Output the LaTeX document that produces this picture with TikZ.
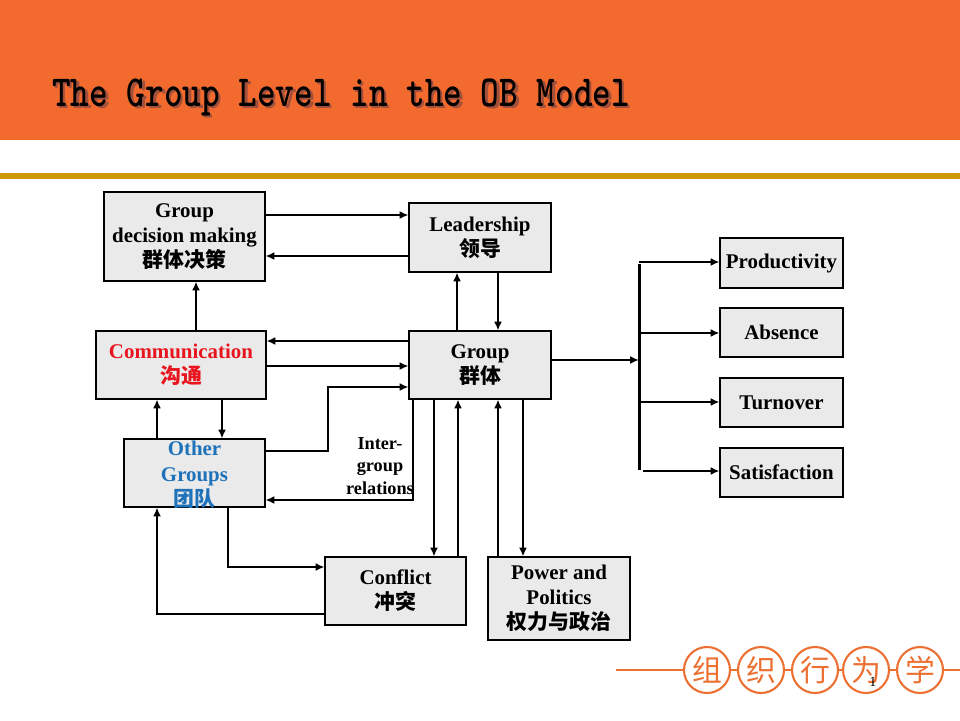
\documentclass[tikz,border=0pt]{standalone}
\usepackage{fontspec}
\usepackage{graphicx}
\setmainfont{Liberation Serif}
\newfontfamily\cjk{Noto Sans CJK SC}
\usetikzlibrary{arrows.meta}
\definecolor{barorange}{RGB}{242,106,46}
\definecolor{gold}{RGB}{204,153,0}
\definecolor{boxgray}{RGB}{234,234,234}
\definecolor{commred}{RGB}{232,20,30}
\definecolor{grpblue}{RGB}{30,114,186}
\definecolor{decor}{RGB}{236,112,50}
\definecolor{shadowc}{RGB}{160,80,60}
\newcommand{\titletext}{\scalebox{1}[1.25]{\ttfamily\bfseries\fontsize{20.2}{22}\selectfont The Group Level in the OB Model}}
\tikzset{
  box/.style={draw, line width=0.6pt, fill=boxgray, align=center, inner sep=0pt,
    font=\bfseries\fontsize{11.9}{14.2}\selectfont},
  arr/.style={-{Latex[length=5pt,width=4.5pt]}, line width=1.2pt},
  ring/.style={circle, draw=decor, line width=1.2pt, fill=white, minimum size=0.92cm, inner sep=0pt,
    text=decor, font=\cjk\fontsize{17}{17}\selectfont}
}
\begin{document}
\begin{tikzpicture}[x=0.02cm,y=-0.02cm]
\useasboundingbox (0,0) rectangle (960,720);
\fill[white] (0,0) rectangle (960,720);
% header
\fill[barorange] (0,0) rectangle (960,140);
\fill[gold] (0,173) rectangle (960,179);
\node[anchor=west, inner sep=0pt, text=shadowc] (titleshadow) at (54.5,99.5) {\titletext};
\node[anchor=west, inner sep=0pt, text=black] (title) at (52,97) {\titletext};

% boxes
\node[box, minimum width=3.22cm, minimum height=1.78cm] (gdm) at (184.5,236.5)
  {Group\\decision making\\{\cjk 群体决策}};
\node[box, minimum width=2.84cm, minimum height=1.38cm] (lead) at (480,237.5)
  {Leadership\\{\cjk 领导}};
\node[box, minimum width=3.4cm, minimum height=1.36cm, text=commred] (comm) at (181,365)
  {Communication\\{\cjk 沟通}};
\node[box, minimum width=2.84cm, minimum height=1.36cm] (group) at (480,365)
  {Group\\{\cjk 群体}};
\node[box, minimum width=2.82cm, minimum height=1.36cm, text=grpblue,
  font=\bfseries\fontsize{11.9}{14.4}\selectfont] (other) at (194.5,473) {};
\node[align=center, inner sep=0pt, text=grpblue,
  font=\bfseries\fontsize{11.9}{14.4}\selectfont] (otherlbl) at (194.5,475)
  {Other\\Groups\\{\cjk 团队}};
\node[box, minimum width=2.82cm, minimum height=1.36cm] (conflict) at (395.5,591)
  {Conflict\\{\cjk 冲突}};
\node[box, minimum width=2.84cm, minimum height=1.66cm] (power) at (559,598.5)
  {Power and\\Politics\\{\cjk 权力与政治}};
\node[box, minimum width=2.46cm, minimum height=1.0cm] (prod) at (781.5,263) {Productivity};
\node[box, minimum width=2.46cm, minimum height=0.98cm] (abs) at (781.5,332.5) {Absence};
\node[box, minimum width=2.46cm, minimum height=0.98cm] (turn) at (781.5,402.5) {Turnover};
\node[box, minimum width=2.46cm, minimum height=0.98cm] (sat) at (781.5,472.5) {Satisfaction};

\node[align=center, inner sep=0pt, font=\bfseries\fontsize{10.4}{12.8}\selectfont] (igr) at (380,466)
  {Inter-\\group\\relations};

% connectors
\draw[arr] (gdm.east |- 0,215) -- (lead.west |- 0,215);
\draw[arr] (lead.west |- 0,256) -- (gdm.east |- 0,256);
\draw[arr] (comm.north -| 196,0) -- (gdm.south -| 196,0);
\draw[arr] (group.north -| 457,0) -- (lead.south -| 457,0);
\draw[arr] (lead.south -| 498,0) -- (group.north -| 498,0);
\draw[arr] (group.west |- 0,341) -- (comm.east |- 0,341);
\draw[arr] (comm.east |- 0,366) -- (group.west |- 0,366);
\draw[arr] (other.east |- 0,451) -- (328,451) -- (328,387) -- (group.west |- 0,387);
\draw[arr] (group.south -| 413,0) -- (413,500) -- (other.east |- 0,500);
\draw[arr] (other.north -| 157,0) -- (comm.south -| 157,0);
\draw[arr] (comm.south -| 222,0) -- (other.north -| 222,0);
\draw[arr] (group.south -| 434,0) -- (conflict.north -| 434,0);
\draw[arr] (conflict.north -| 458,0) -- (group.south -| 458,0);
\draw[arr] (power.north -| 498,0) -- (group.south -| 498,0);
\draw[arr] (group.south -| 523,0) -- (power.north -| 523,0);
\draw[arr] (other.south -| 228,0) -- (228,567) -- (conflict.west |- 0,567);
\draw[arr] (conflict.west |- 0,614) -- (157,614) -- (other.south -| 157,0);

% fan out
\coordinate (fan) at (639,360);
\draw[arr] (group.east |- fan) -- (fan);
\draw[line width=1.7pt] (639,264) -- (639,470);
\draw[arr] (639,262) -- (prod.west |- 0,262);
\draw[arr] (639,333) -- (abs.west |- 0,333);
\draw[arr] (639,402) -- (turn.west |- 0,402);
\draw[arr] (643,471) -- (sat.west |- 0,471);

% footer decoration
\draw[decor, line width=1.4pt] (616,670) -- (960,670);
\node[ring] (c1) at (707,670) {组};
\node[ring] (c2) at (761,670) {织};
\node[ring] (c3) at (815,670) {行};
\node[ring] (c4) at (866,670) {为};
\node[ring] (c5) at (920,670) {学};
\node[inner sep=0pt, font=\fontsize{8}{8}\selectfont] (pnum) at (873,682) {1};
\end{tikzpicture}
\end{document}
